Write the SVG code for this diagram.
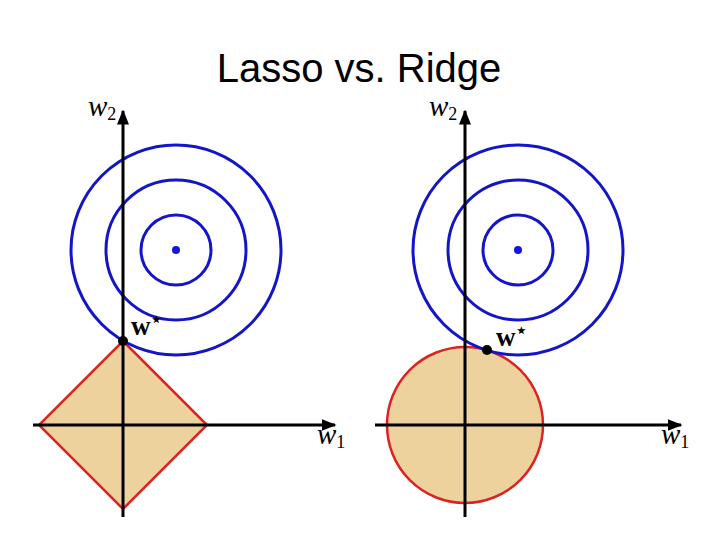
<svg xmlns="http://www.w3.org/2000/svg" width="720" height="540" viewBox="0 0 720 540">
<defs>
<marker id="arr" viewBox="0 0 10 10" refX="9" refY="5" markerWidth="5" markerHeight="5" markerUnits="strokeWidth" orient="auto">
<path d="M0,1 L10,5 L0,9 Z" fill="#000"/>
</marker>
</defs>
<style>
.contour{fill:none;stroke:#1515c8;stroke-width:3}
.region{fill:#eed29e;stroke:#dd2222;stroke-width:2.5}
.axis{stroke:#000;stroke-width:3;fill:none}
.lab{font-family:"Liberation Serif",serif;font-style:italic;font-size:29px;fill:#000}
.sub{font-family:"Liberation Serif",serif;font-style:normal;font-size:18px}
.ws{font-family:"Liberation Serif",serif;font-weight:bold;font-size:27px;fill:#000}
.title{font-family:"Liberation Sans",Arial,sans-serif;font-size:40px;fill:#000}
</style>
<rect width="720" height="540" fill="#fff"/>
<text class="title" x="359" y="82" text-anchor="middle">Lasso vs. Ridge</text>

<g id="lasso-region"><polygon class="region" points="123,341 207,425 123,509 39,425"/></g>
<g id="ridge-region"><circle class="region" cx="465" cy="425" r="78"/></g>

<g id="lasso-contours">
<circle class="contour" cx="176" cy="250" r="35"/>
<circle class="contour" cx="176" cy="250" r="70"/>
<circle class="contour" cx="176" cy="250" r="105"/>
<circle cx="176" cy="250" r="4" fill="#1515e0"/>
</g>
<g id="ridge-contours">
<circle class="contour" cx="518" cy="250" r="35"/>
<circle class="contour" cx="518" cy="250" r="70"/>
<circle class="contour" cx="518" cy="250" r="105"/>
<circle cx="518" cy="250" r="4" fill="#1515e0"/>
</g>

<g id="connectors">
<line class="axis" x1="123" y1="517" x2="123" y2="111" marker-end="url(#arr)"/>
<line class="axis" x1="33" y1="425" x2="335" y2="425" marker-end="url(#arr)"/>
<line class="axis" x1="465" y1="517" x2="465" y2="111" marker-end="url(#arr)"/>
<line class="axis" x1="375" y1="425" x2="681" y2="425" marker-end="url(#arr)"/>
</g>

<g id="lasso-labels">
<text class="lab" x="88" y="116">w<tspan class="sub" dy="4">2</tspan></text>
<text class="lab" x="317" y="444">w<tspan class="sub" dy="4">1</tspan></text>
<circle cx="123" cy="341" r="5" fill="#000"/>
<text class="ws" x="131" y="335">w<tspan font-size="17" dy="-10">⋆</tspan></text>
</g>
<g id="ridge-labels">
<text class="lab" x="429" y="116">w<tspan class="sub" dy="4">2</tspan></text>
<text class="lab" x="661" y="444">w<tspan class="sub" dy="4">1</tspan></text>
<circle cx="487" cy="350" r="5" fill="#000"/>
<text class="ws" x="496" y="346">w<tspan font-size="17" dy="-10">⋆</tspan></text>
</g>
</svg>
